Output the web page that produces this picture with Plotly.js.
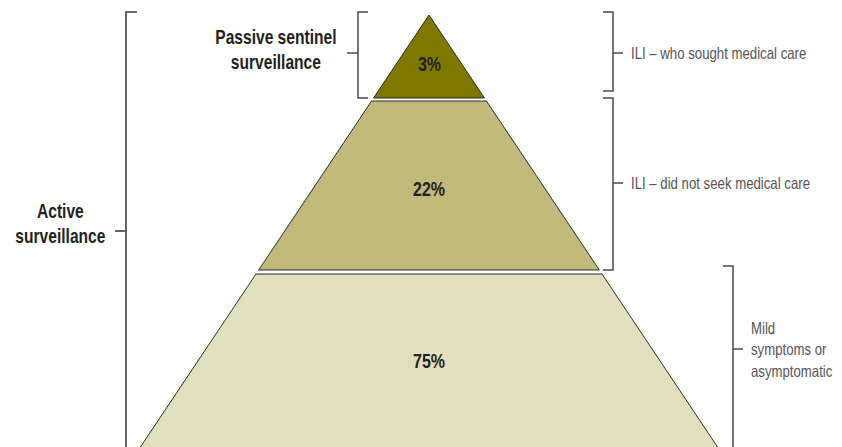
<!DOCTYPE html>
<html>
<head>
<meta charset="utf-8">
<script src="https://cdn.plot.ly/plotly-3.0.1.min.js"></script>
<style>
  html, body { margin: 0; padding: 0; background: #ffffff; }
  #chart { width: 842px; height: 447px; }
</style>
</head>
<body>
<div id="chart"></div>
<script>
// ---- data ----
const tierNames = ['ILI – who sought medical care', 'ILI – did not seek medical care', 'Mild<br>symptoms or<br>asymptomatic'];
const tierShares = [3, 22, 75];
const tierColors = ['#7f7800', '#c2ba7a', '#e2dfbf'];
const groupNames = ['Passive sentinel<br>surveillance', 'Active<br>surveillance'];

// ---- geometry (schematic pyramid, drawn in pixel-like axis units) ----
const W = 842, H = 447;
const apex = { x: 429, y: 15 };
const slope = 0.668;                       // half-width per unit of depth
const tierTop = [15, 101, 274];
const tierBottom = [98, 270, 470];

const FONT = 'Liberation Sans, Arial, Helvetica, sans-serif';
const SQUEEZE = 0.8;                        // condensed look (horizontal scale of text)
const halfW = y => slope * (y - apex.y);

const traces = tierShares.map((v, i) => {
  const t = tierTop[i], b = tierBottom[i];
  const xs = [apex.x - halfW(t), apex.x + halfW(t), apex.x + halfW(b), apex.x - halfW(b), apex.x - halfW(t)];
  const ys = [t, t, b, b, t];
  return {
    type: 'scatter', mode: 'lines', x: xs, y: ys, fill: 'toself',
    fillcolor: tierColors[i], line: { color: '#2b2b2b', width: 1 },
    hoverinfo: 'skip', name: tierNames[i]
  };
});

const lineCol = '#4a4a4a';
function bracketPath(pts) {
  return pts.map((p, i) => (i ? 'L' : 'M') + p[0] + ',' + p[1]).join(' ');
}
const bracketDefs = [
  { pts: [[137, 12], [126, 12], [126, 470]], tick: [126, 231, 115], w: 2, c: '#666666' },
  { pts: [[368, 12], [358, 12], [358, 98], [368, 98]], tick: [358, 53, 347], w: 1.5, c: lineCol },
  { pts: [[603, 12], [613, 12], [613, 91], [603, 91]], tick: [613, 53, 623], w: 1.5, c: lineCol },
  { pts: [[603, 98], [613, 98], [613, 270], [603, 270]], tick: [613, 183, 623], w: 1.5, c: lineCol },
  { pts: [[723, 266], [733, 266], [733, 470]], tick: [733, 349, 743], w: 1.5, c: lineCol }
];
const shapes = [];
bracketDefs.forEach(b => {
  shapes.push({ type: 'path', xref: 'x', yref: 'y', path: bracketPath(b.pts), line: { color: b.c, width: b.w } });
  shapes.push({ type: 'line', xref: 'x', yref: 'y', x0: b.tick[0], x1: b.tick[2], y0: b.tick[1], y1: b.tick[1], line: { color: b.c, width: b.w } });
});

const pctY = [64, 189, 361];
const annotations = [];
tierShares.forEach((v, i) => {
  annotations.push({
    x: apex.x, y: pctY[i], xref: 'x', yref: 'y', text: v + '%', showarrow: false,
    xanchor: 'center', yanchor: 'middle',
    font: { family: FONT, size: 20, color: '#231f20', weight: 'bold' }
  });
});
const sideLabel = [
  { x: 629, y: 53 },
  { x: 629, y: 183 },
  { x: 749, y: 349 }
];
tierNames.forEach((n, i) => {
  annotations.push({
    x: sideLabel[i].x, y: sideLabel[i].y, xref: 'x', yref: 'y', text: n, showarrow: false,
    xanchor: 'left', yanchor: 'middle', align: 'left',
    font: { family: FONT, size: 16.5, color: '#555555' }
  });
});
const groupPos = [{ x: 276, y: 49 }, { x: 60, y: 223 }];
groupNames.forEach((n, i) => {
  annotations.push({
    x: groupPos[i].x, y: groupPos[i].y, xref: 'x', yref: 'y', text: n, showarrow: false,
    xanchor: 'center', yanchor: 'middle', align: 'center',
    font: { family: FONT, size: 19.5, color: '#231f20', weight: 'bold' }
  });
});

const layout = {
  width: W, height: H,
  margin: { l: 0, r: 0, t: 0, b: 0 },
  paper_bgcolor: '#ffffff', plot_bgcolor: '#ffffff',
  showlegend: false,
  xaxis: { range: [0, W], visible: false, fixedrange: true },
  yaxis: { range: [H, 0], visible: false, fixedrange: true },
  shapes: shapes,
  annotations: annotations
};

Plotly.newPlot('chart', traces, layout, { displayModeBar: false, staticPlot: true }).then(gd => {
  // give the text a condensed look, keeping each annotation's anchor in place
  gd.querySelectorAll('g.annotation').forEach(g => {
    const idx = +g.getAttribute('data-index');
    const ann = layout.annotations[idx];
    const txt = g.querySelector('text.annotation-text');
    if (!txt) return;
    const bb = txt.getBBox();
    const ax = ann.xanchor === 'left' ? bb.x : (ann.xanchor === 'right' ? bb.x + bb.width : bb.x + bb.width / 2);
    txt.setAttribute('transform', `translate(${ax},0) scale(${SQUEEZE},1) translate(${-ax},0)`);
  });
});
</script>
</body>
</html>
